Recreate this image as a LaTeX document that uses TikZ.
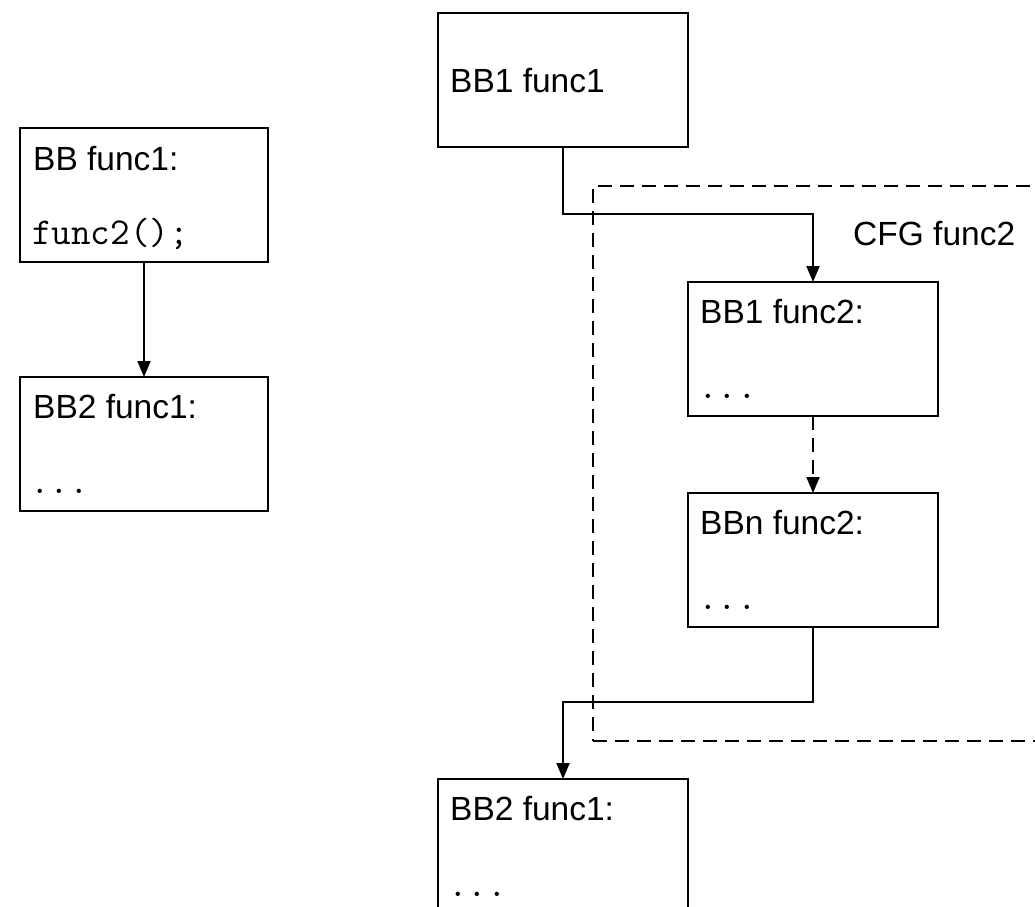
\documentclass[tikz,border=0pt]{standalone}
\usepackage{fontspec}
\setmainfont{Liberation Sans}
\usetikzlibrary{arrows.meta}
\begin{document}
\begin{tikzpicture}[x=1pt,y=-1pt,
  bb/.style={draw, line width=1.8pt, minimum width=248pt, minimum height=134pt, anchor=north west, inner sep=0pt, outer sep=0pt},
  txt/.style={anchor=base west, inner sep=0pt, font=\fontsize{33.5}{40}\selectfont},
  code/.style={anchor=base west, inner sep=0pt, font=\fontsize{38}{44}\selectfont\ttfamily},
  conn/.style={line width=1.9pt, -{Triangle[length=16pt,width=13pt]}},
  dashbox/.style={draw, line width=1.8pt, dash pattern=on 14pt off 8pt, anchor=north west, inner sep=0pt, outer sep=0pt},
]
\useasboundingbox (0,0) rectangle (1035,906);
\clip (0,0) rectangle (1035,906);
% left column
\node[bb] (a1) at (20,128) {};
\node[bb] (a2) at (20,377) {};
% right column
\node[bb, minimum width=250pt] (r1) at (438,13) {};
\node[bb, minimum width=250pt] (r2) at (688,282) {};
\node[bb, minimum width=250pt] (r3) at (688,493) {};
\node[bb, minimum width=250pt] (r4) at (438,779) {};
% cluster
\node[dashbox, minimum width=480pt, minimum height=555pt] (cfgbox) at (593,186) {};
% texts
\node[txt] (ta1) at (33,170) {BB func1:};
\node[code] (ca1) at (32,244) {func2();};
\node[txt] (ta2) at (33,418) {BB2 func1:};
\node[code] (ca2) at (30,493) {...};
\node[txt] (tr1) at (450,92) {BB1 func1};
\node[txt] (tr2) at (700,323) {BB1 func2:};
\node[code] (cr2) at (698,398) {...};
\node[txt] (tr3) at (700,534) {BBn func2:};
\node[code] (cr3) at (698,609) {...};
\node[txt] (tr4) at (450,820) {BB2 func1:};
\node[code] (cr4) at (448,896) {...};
\node[txt] (cfg) at (853,245) {CFG func2};
% connectors
\coordinate (k1) at (0,214);
\coordinate (k2) at (0,702);
\draw[conn] (a1.south) -- (a2.north);
\draw[conn] (r1.south) -- (r1.south |- k1) -| (r2.north);
\draw[conn, dash pattern=on 14pt off 8pt] (r2.south) -- (r3.north);
\draw[conn] (r3.south) -- (r3.south |- k2) -| (r4.north);
\end{tikzpicture}
\end{document}
